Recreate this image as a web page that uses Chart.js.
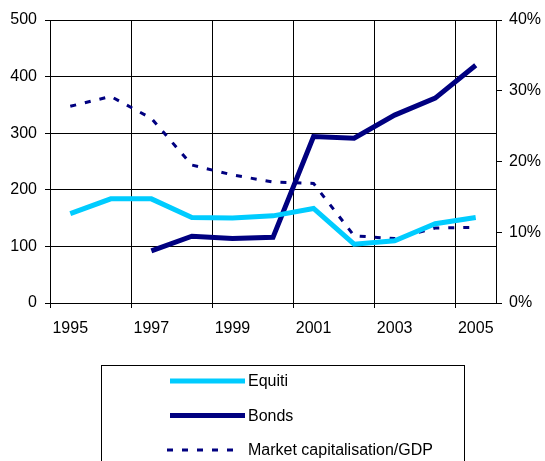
<!DOCTYPE html>
<html>
<head>
<meta charset="utf-8">
<script src="https://cdn.jsdelivr.net/npm/chart.js@4/dist/chart.umd.min.js"></script>
<style>
  html, body { margin: 0; padding: 0; background: #fff; }
  #wrap { width: 545px; height: 461px; }
</style>
</head>
<body>
<div id="wrap"><canvas id="chart" width="545" height="461"></canvas></div>
<script>
const years = ['1995', '1996', '1997', '1998', '1999', '2000', '2001', '2002', '2003', '2004', '2005'];
const equiti = [158, 184, 184, 151, 150, 154, 167, 104, 110, 140, 151];
const bonds = [null, null, 92, 118, 114, 116, 294, 291, 332, 362, 420];
const marketCapGdp = [27.8, 29.2, 26.1, 19.5, 18.1, 17.1, 16.9, 9.5, 9.1, 10.6, 10.7];

const leftTicks = [0, 100, 200, 300, 400, 500];
const rightTicks = [0, 10, 20, 30, 40];

Chart.defaults.font.family = '"Liberation Sans", Arial, sans-serif';
Chart.defaults.font.size = 16;
Chart.defaults.color = '#000';

// boxed legend under the plot, one series per row
const boxLegend = {
  id: 'boxLegend',
  afterDraw(chart) {
    const ctx = chart.ctx;
    ctx.save();
    ctx.strokeStyle = '#000';
    ctx.lineWidth = 1;
    ctx.strokeRect(101.5, 365.5, 363, 120);
    ctx.font = '16px "Liberation Sans", Arial, sans-serif';
    ctx.textBaseline = 'middle';
    ctx.fillStyle = '#000';
    chart.data.datasets.forEach((ds, i) => {
      const y = 381 + i * 34.5;
      const dashed = !!ds.borderDash;
      ctx.beginPath();
      ctx.strokeStyle = ds.borderColor;
      ctx.lineWidth = ds.borderWidth;
      ctx.setLineDash(ds.borderDash || []);
      ctx.moveTo(dashed ? 167 : 170, y);
      ctx.lineTo(dashed ? 237 : 245, y);
      ctx.stroke();
      ctx.setLineDash([]);
      ctx.fillText(ds.label, 248, y + 1);
    });
    ctx.restore();
  }
};

new Chart(document.getElementById('chart'), {
  type: 'line',
  data: {
    labels: years,
    datasets: [
      {
        label: 'Equiti',
        data: equiti,
        yAxisID: 'y',
        borderColor: '#00CCFF',
        borderWidth: 5,
        pointRadius: 0,
        tension: 0
      },
      {
        label: 'Bonds',
        data: bonds,
        yAxisID: 'y',
        borderColor: '#000080',
        borderWidth: 5,
        pointRadius: 0,
        tension: 0
      },
      {
        label: 'Market capitalisation/GDP',
        data: marketCapGdp,
        yAxisID: 'y2',
        borderColor: '#000080',
        borderWidth: 3,
        borderDash: [6, 9],
        pointRadius: 0,
        tension: 0
      }
    ]
  },
  options: {
    responsive: false,
    animation: false,
    devicePixelRatio: 1,
    layout: { padding: { top: 20, left: 0, right: 0, bottom: 128 } },
    plugins: {
      legend: { display: false },
      tooltip: { enabled: false }
    },
    scales: {
      x: {
        type: 'category',
        offset: true,
        afterFit(scale) { scale.height = 30; },
        grid: {
          offset: true,
          color: (c) => (c.index % 2 === 0 ? '#000' : 'rgba(0,0,0,0)'),
          lineWidth: 1,
          tickLength: 5
        },
        border: { display: true, color: '#000', width: 1 },
        ticks: {
          autoSkip: false,
          maxRotation: 0,
          padding: 11,
          callback: (v, i) => (i % 2 === 0 ? years[i] : '')
        }
      },
      y: {
        position: 'left',
        min: leftTicks[0],
        max: leftTicks[leftTicks.length - 1],
        afterFit(scale) { scale.width = 50; },
        afterBuildTicks(scale) { scale.ticks = leftTicks.map(v => ({ value: v })); },
        grid: { color: '#000', lineWidth: 1, tickLength: 5 },
        border: { display: true, color: '#000', width: 1 },
        ticks: { padding: 8 }
      },
      y2: {
        position: 'right',
        min: rightTicks[0],
        max: rightTicks[rightTicks.length - 1],
        afterFit(scale) { scale.width = 49; },
        afterBuildTicks(scale) { scale.ticks = rightTicks.map(v => ({ value: v })); },
        grid: { drawOnChartArea: false, color: '#000', tickLength: 6 },
        border: { display: true, color: '#000', width: 1 },
        ticks: { padding: 7, callback: (v) => v + '%' }
      }
    }
  },
  plugins: [boxLegend]
});
</script>
</body>
</html>
